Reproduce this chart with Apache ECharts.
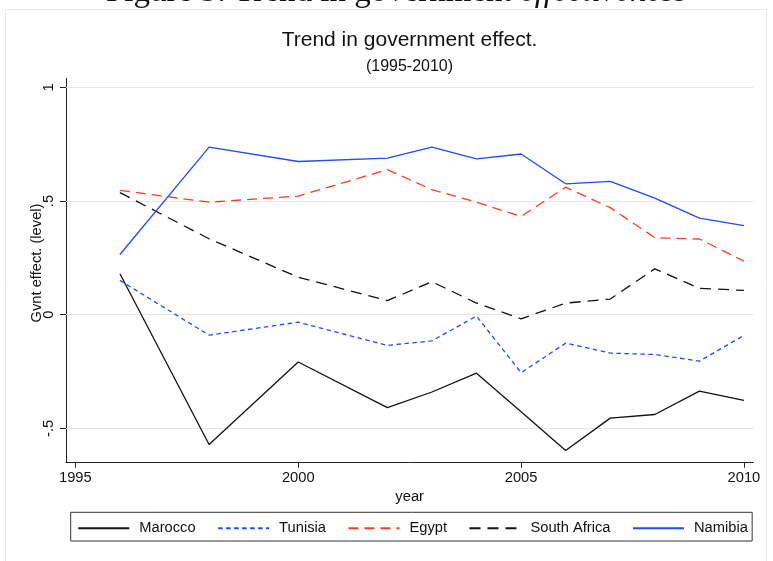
<!DOCTYPE html>
<html>
<head>
<meta charset="utf-8">
<script src="https://cdn.jsdelivr.net/npm/echarts@6/dist/echarts.min.js"></script>
<style>
  html, body { margin: 0; padding: 0; background: #ffffff; }
  #chart { width: 773px; height: 561px; }
</style>
</head>
<body>
<div id="chart"></div>
<script>
// Government effectiveness level by country, 1996-2010
const years = [1996, 1998, 2000, 2002, 2003, 2004, 2005, 2006, 2007, 2008, 2009, 2010];
const marocco     = [0.180, -0.571, -0.208, -0.409, -0.340, -0.257, -0.427, -0.597, -0.455, -0.439, -0.336, -0.377];
const tunisia     = [0.151, -0.090, -0.033, -0.135, -0.115, -0.006, -0.255, -0.125, -0.169, -0.175, -0.204, -0.091];
const egypt       = [0.547, 0.495, 0.522, 0.638, 0.550, 0.495, 0.432, 0.561, 0.471, 0.339, 0.333, 0.236];
const southAfrica = [0.537, 0.334, 0.165, 0.062, 0.145, 0.051, -0.018, 0.051, 0.069, 0.202, 0.116, 0.107];
const namibia     = [0.265, 0.737, 0.674, 0.689, 0.737, 0.686, 0.707, 0.576, 0.587, 0.513, 0.425, 0.392];

const xTicks = [1995, 2000, 2005, 2010];
const yTicks = [-0.5, 0, 0.5, 1];

const FONT = '"Liberation Sans", Arial, Helvetica, sans-serif';
const SERIF = '"Liberation Serif", "Times New Roman", serif';
const TEXT = '#111111';

function pairs(vals) {
  return years.map((y, i) => [y, vals[i]]);
}

function yLabel(v) {
  if (v === 0) return '0';
  const s = String(Math.abs(v)).replace(/^0\./, '.');
  return (v < 0 ? '-' : '') + s;
}

const lines = [
  { name: 'Marocco',      values: marocco,     color: '#111111', dash: 'solid' },
  { name: 'Tunisia',      values: tunisia,     color: '#1f4bff', dash: [4.5, 3.5] },
  { name: 'Egypt',        values: egypt,       color: '#ff3b1c', dash: [10, 6] },
  { name: 'South Africa', values: southAfrica, color: '#111111', dash: [11, 7] },
  { name: 'Namibia',      values: namibia,     color: '#1f4bff', dash: 'solid' }
];

const series = lines.map(l => ({
  name: l.name,
  type: 'line',
  data: pairs(l.values),
  symbol: 'none',
  showSymbol: false,
  z: 3,
  color: l.color,
  lineStyle: { color: l.color, width: 1.3, type: l.dash },
  emphasis: { disabled: true },
  animation: false
}));

// horizontal grid lines at the labelled y ticks
series.unshift({
  name: '__grid',
  type: 'line',
  data: [],
  silent: true,
  z: 1,
  markLine: {
    silent: true,
    z: 1,
    symbol: ['none', 'none'],
    label: { show: false },
    lineStyle: { color: '#e6e6e6', width: 1, type: 'solid' },
    emphasis: { disabled: true },
    animation: false,
    data: yTicks.map(v => ({ yAxis: v }))
  }
});

// document caption above the graph frame (partly off the top edge)
const captionHead = 'Figure 5: Trend in government ';
const captionTail = 'effectiveness';
const captionSize = 33;
const captionX = 106;
const measureCtx = document.createElement('canvas').getContext('2d');
measureCtx.font = captionSize + 'px ' + SERIF;
const headWidth = measureCtx.measureText(captionHead).width;

const chart = echarts.init(document.getElementById('chart'), null, { renderer: 'canvas' });

chart.setOption({
  animation: false,
  backgroundColor: '#ffffff',
  graphic: [
    {
      type: 'rect',
      z: 0,
      silent: true,
      shape: { x: 5.5, y: 9.5, width: 761, height: 560 },
      style: { fill: 'none', stroke: '#e9e9e9', lineWidth: 1 }
    },
    {
      type: 'text',
      z: 0,
      silent: true,
      style: {
        x: captionX, y: -8,
        text: captionHead,
        font: captionSize + 'px ' + SERIF,
        fill: '#111',
        align: 'left',
        verticalAlign: 'middle'
      }
    },
    {
      type: 'text',
      z: 0,
      silent: true,
      style: {
        x: captionX + headWidth, y: -8,
        text: captionTail,
        font: 'italic ' + captionSize + 'px ' + SERIF,
        fill: '#111',
        align: 'left',
        verticalAlign: 'middle'
      }
    }
  ],
  title: [
    {
      text: 'Trend in government effect.',
      left: 409.5, top: 30, padding: 0,
      textAlign: 'center',
      textStyle: { fontFamily: FONT, fontSize: 21, fontWeight: 'normal', color: TEXT }
    },
    {
      text: '(1995-2010)',
      left: 409.5, top: 58.8, padding: 0,
      textAlign: 'center',
      textStyle: { fontFamily: FONT, fontSize: 16, fontWeight: 'normal', color: TEXT }
    }
  ],
  legend: {
    data: lines.map(l => l.name),
    left: 70.7, top: 512.3,
    orient: 'horizontal',
    padding: [8.5, 4.3, 5.2, 6.6],
    itemWidth: 51, itemHeight: 14, itemGap: 21.5,
    itemStyle: { opacity: 0 },
    borderColor: '#333333', borderWidth: 1,
    selectedMode: false,
    textStyle: { fontFamily: FONT, fontSize: 14.7, color: TEXT, padding: [0, 0, 0, 5] }
  },
  grid: { left: 66, right: 19.7, top: 78.3, bottom: 98.3, containLabel: false },
  xAxis: {
    type: 'value',
    min: 1994.79, max: 2010.21,
    name: 'year', nameLocation: 'middle', nameGap: 27,
    nameMoveOverlap: false,
    nameTextStyle: { fontFamily: FONT, fontSize: 14.7, color: TEXT },
    axisLine: { show: true, onZero: false, lineStyle: { color: '#222', width: 1 } },
    axisTick: { show: true, length: 5, customValues: xTicks, lineStyle: { color: '#222', width: 1 } },
    axisLabel: { customValues: xTicks, margin: 8, formatter: v => String(v), fontFamily: FONT, fontSize: 14.7, color: TEXT },
    splitLine: { show: false }
  },
  yAxis: {
    type: 'value',
    min: -0.651, max: 1.04,
    name: 'Gvnt effect. (level)', nameLocation: 'middle', nameGap: 22,
    nameMoveOverlap: false,
    nameTextStyle: { fontFamily: FONT, fontSize: 14.7, color: TEXT, padding: [0, 0, 0, 15] },
    axisLine: { show: true, onZero: false, lineStyle: { color: '#222', width: 1 } },
    axisTick: { show: true, length: 6, customValues: yTicks, lineStyle: { color: '#222', width: 1 } },
    axisLabel: { customValues: yTicks, rotate: 90, margin: 10, formatter: yLabel, fontFamily: FONT, fontSize: 14.7, color: TEXT },
    splitLine: { show: false }
  },
  series: series
});
</script>
</body>
</html>
